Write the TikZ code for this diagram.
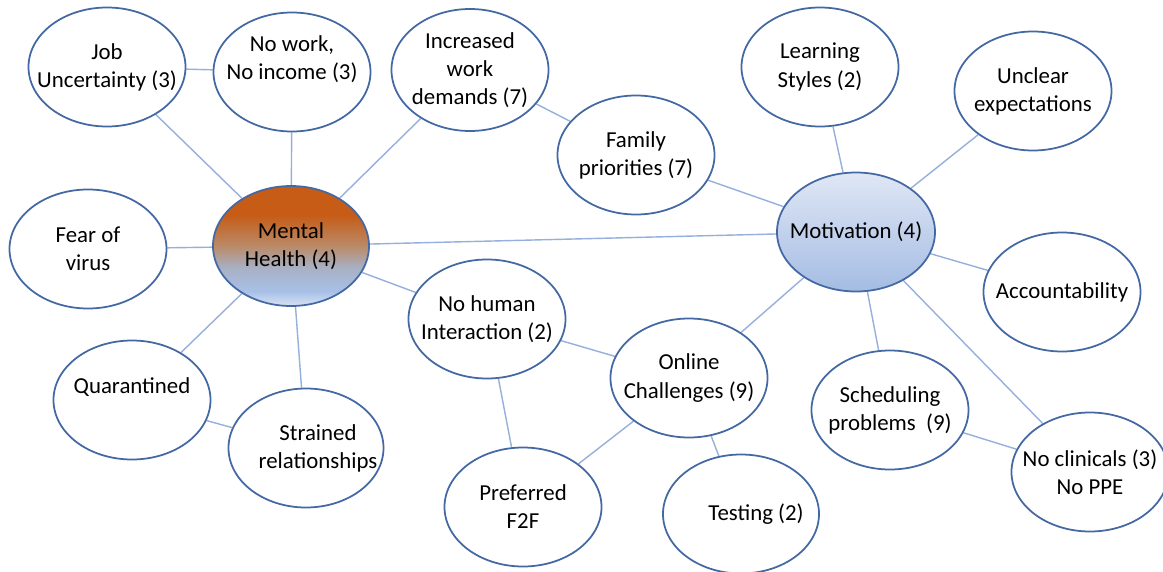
\documentclass[tikz,border=0pt]{standalone}
\usepackage{fontspec}
\setmainfont{Carlito}
\usepackage{tikz}
\usetikzlibrary{shapes.geometric}
\pgfdeclarelayer{bg}
\pgfsetlayers{bg,main}

\definecolor{rim}{RGB}{68,104,163}
\definecolor{spokeblue}{RGB}{150,176,222}
\definecolor{hpale}{RGB}{216,227,244}
\definecolor{hblue}{RGB}{168,192,231}
\definecolor{hgrey}{RGB}{168,176,196}
\definecolor{htan}{RGB}{186,138,104}
\definecolor{horange}{RGB}{198,92,22}
\definecolor{motlight}{RGB}{224,231,245}
\definecolor{motblue}{RGB}{164,188,227}
\pgfdeclareverticalshading{healthshade}{100bp}{color(0bp)=(hpale); color(25bp)=(hpale);
  color(31bp)=(hblue); color(41bp)=(hgrey); color(50bp)=(htan); color(63bp)=(horange);
  color(100bp)=(horange)}

\begin{document}
\begin{tikzpicture}[
        bubble/.style={ellipse, draw=rim, line width=1pt, fill=white,
                minimum width=3.14cm, minimum height=2.38cm,
                inner xsep=-1cm, inner ysep=-0.6cm, align=center,
                font=\fontsize{13}{16}\selectfont},
        spoke/.style={draw=spokeblue, line width=0.8pt}]
        \useasboundingbox (0,0) rectangle (23.26cm, 11.42cm);
        \node (v0) [bubble, minimum width=3.12cm, minimum height=2.40cm,
                shading=healthshade] at (5.82cm, 6.50cm) {Mental\\Health (4)};
        \node (v1) [bubble, minimum width=3.16cm, top color=motlight,
                bottom color=motblue] at (17.12cm, 6.78cm) {Motivation (4)};
        \node (v2) [bubble] at (2.14cm, 10.08cm) {Job\\Uncertainty (3)};
        \node (v3) [bubble] at (5.84cm, 9.98cm) {No work,\\No income (3)\\\mbox{}};
        \node (v4) [bubble, minimum height=2.44cm] at (9.40cm, 10.02cm)
                {Increased\\work\\demands (7)};
        \node (v5) [bubble] at (12.72cm, 8.32cm) {Family\\priorities (7)};
        \node (v6) [bubble] at (16.40cm, 10.08cm) {Learning\\Styles (2)};
        \node (v7) [bubble] at (20.66cm, 9.60cm) {Unclear\\expectations};
        \node (v8) [bubble] at (1.76cm, 6.44cm) {Fear of\\virus};
        \node (v9) [bubble] at (21.24cm, 5.58cm) {Accountability};
        \node (v10) [bubble] at (9.74cm, 5.04cm) {No human\\Interaction (2)};
        \node (v11) [bubble] at (13.78cm, 3.86cm) {Online\\Challenges (9)};
        \node (v12) [bubble] at (2.64cm, 3.42cm) {Quarantined\\\mbox{}};
        \node (v13) [bubble, minimum width=3.10cm] at (6.12cm, 2.46cm)
                {\hspace*{0.48cm}Strained\\\hspace*{0.48cm}relationships};
        \node (v14) [bubble] at (17.80cm, 3.22cm) {Scheduling\\problems\ \ (9)};
        \node (v15) [bubble] at (21.80cm, 1.98cm) {No clinicals (3)\\No PPE};
        \node (v16) [bubble] at (10.46cm, 1.28cm) {Preferred\\F2F};
        \node (v17) [bubble, minimum width=3.12cm] at (14.82cm, 1.14cm)
                {\hspace*{0.6cm}Testing (2)};
        \begin{pgfonlayer}{bg}
                \fill[white] (0,0) rectangle (23.26cm, 11.42cm);
                \draw (v0) edge [spoke] (v2);
                \draw (v0) edge [spoke] (v3);
                \draw (v0) edge [spoke] (v4);
                \draw (v0) edge [spoke] (v8);
                \draw (v0) edge [spoke] (v12);
                \draw (v0) edge [spoke] (v13);
                \draw (v0) edge [spoke] (v10);
                \draw (v0) edge [spoke] (v1);
                \draw (v2) edge [spoke] (v3);
                \draw (v4) edge [spoke] (v5);
                \draw (v5) edge [spoke] (v1);
                \draw (v1) edge [spoke] (v6);
                \draw (v1) edge [spoke] (v7);
                \draw (v1) edge [spoke] (v9);
                \draw (v1) edge [spoke] (v11);
                \draw (v1) edge [spoke] (v14);
                \draw (v1) edge [spoke] (v15);
                \draw (v12) edge [spoke] (v13);
                \draw (v10) edge [spoke] (v11);
                \draw (v10) edge [spoke] (v16);
                \draw (v11) edge [spoke] (v16);
                \draw (v11) edge [spoke] (v17);
                \draw (v14) edge [spoke] (v15);
        \end{pgfonlayer}
\end{tikzpicture}
\end{document}
